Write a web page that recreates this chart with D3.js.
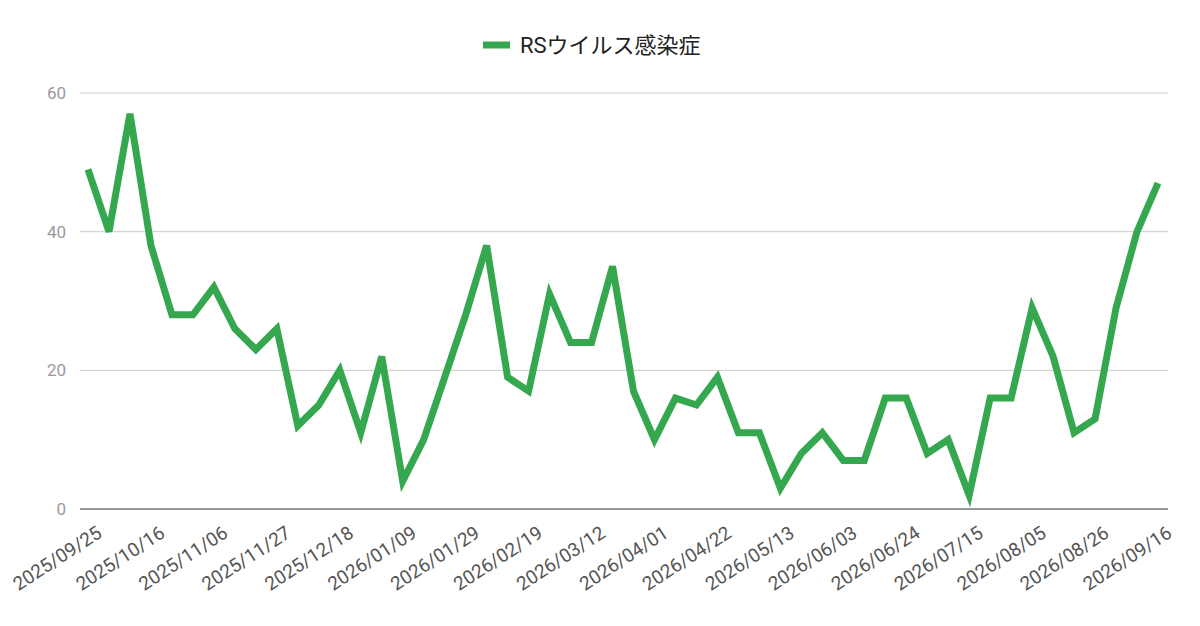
<!DOCTYPE html>
<html><head><meta charset="utf-8">
<script src="https://cdn.jsdelivr.net/npm/d3@7"></script>
<style>body{margin:0;background:#fff;font-family:Roboto,"Noto Sans CJK JP",sans-serif}</style>
</head><body><svg id="c" width="1200" height="626"></svg>
<script>
const seriesName = "RSウイルス感染症";
const values = [49,40,57,38,28,28,32,26,23,26,12,15,20,11,22,4,10,19,28,38,
  19,17,31,24,24,35,17,10,16,15,19,11,11,3,8,11,7,7,16,16,
  8,10,2,16,16,29,22,11,13,29,40,47];
const xLabels = ["2025/09/25","2025/10/16","2025/11/06","2025/11/27","2025/12/18",
  "2026/01/09","2026/01/29","2026/02/19","2026/03/12","2026/04/01","2026/04/22",
  "2026/05/13","2026/06/03","2026/06/24","2026/07/15","2026/08/05","2026/08/26","2026/09/16"];
const yTicks = [0, 20, 40, 60];

const data = values.map((v, i) => ({i, v}));
const m = {l: 88, r: 1158, t: 93, b: 509};
const x = d3.scaleLinear().domain([0, values.length - 1]).range([m.l, m.r]);
const y = d3.scaleLinear().domain([0, 60]).range([m.b, m.t]);
const svg = d3.select("#c");

svg.append("g").selectAll("line").data(yTicks).join("line")
  .attr("x1", 80).attr("x2", 1168).attr("y1", d => y(d)).attr("y2", d => y(d))
  .attr("stroke", d => d === 0 ? "#333" : "#ccc").attr("stroke-width", 1);
svg.append("g").selectAll("text").data(yTicks).join("text")
  .attr("x", 66).attr("y", d => y(d) + 6).attr("text-anchor", "end")
  .attr("fill", "#999").attr("font-size", 17).text(d => d);

svg.append("g").selectAll("text").data(xLabels).join("text")
  .attr("transform", (d, i) => `translate(${x(i * 3) + 8},${m.b + 16}) rotate(-33)`)
  .attr("text-anchor", "end").attr("dy", "0.7em")
  .attr("fill", "#555").attr("font-size", 19).text(d => d);

svg.append("path").datum(data)
  .attr("fill", "none").attr("stroke", "#35a84f").attr("stroke-width", 7)
  .attr("d", d3.line().x(d => x(d.i)).y(d => y(d.v)));

const lg = svg.append("g");
lg.append("line").attr("x1", 483).attr("x2", 510).attr("y1", 45).attr("y2", 45)
  .attr("stroke", "#35a84f").attr("stroke-width", 7);
lg.append("text").attr("x", 520).attr("y", 53).attr("font-size", 22)
  .attr("fill", "#222").text(seriesName);
</script></body></html>
